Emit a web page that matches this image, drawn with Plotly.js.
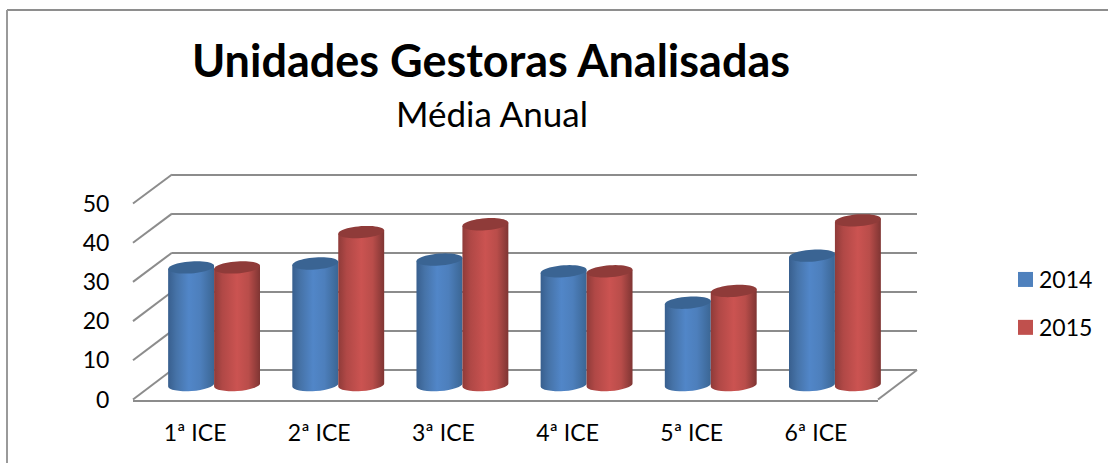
<!DOCTYPE html>
<html><head><meta charset="utf-8">
<script src="https://cdn.plot.ly/plotly-3.0.1.min.js"></script>
<style>html,body{margin:0;padding:0;background:#fff}#c{width:1108px;height:463px}</style>
</head><body><div id="c"></div>
<script>
const categories = ['1ª ICE','2ª ICE','3ª ICE','4ª ICE','5ª ICE','6ª ICE'];
const values2014 = [30,31,32,29,21,33];
const values2015 = [30,39,41,29,24,42];
const yTicks = [0,10,20,30,40,50];
const W=1108,H=463, FONT='Lato, "Open Sans", sans-serif', GRID='#8c8c8c';
const px=x=>x/W, py=y=>1-y/H;
const idx=categories.map((_,i)=>i);
const frontY=v=>399.5-v*3.92, backY=v=>370-v*3.91;
const BW=0.37, SCALE=3.92, RY=6, TILT=1.6;

function cap(i,v,off,color){
  let d='';
  for(let k=0;k<=48;k++){
    const t=k/48*2*Math.PI, c=Math.cos(t), s=Math.sin(t);
    const x=i+off+BW/2*c, y=v+(RY*s+TILT*c)/SCALE;
    d+=(k?'L':'M')+x.toFixed(4)+','+y.toFixed(4);
  }
  return {type:'path',xref:'x3',yref:'y3',path:d+'Z',fillcolor:color,line:{width:0},layer:'above'};
}
const shapes=[];
shapes.push({type:'line',xref:'paper',yref:'paper',x0:px(7),x1:1,y0:py(10),y1:py(10),line:{color:'#8e8e8e',width:2}});
shapes.push({type:'line',xref:'paper',yref:'paper',x0:px(7),x1:px(7),y0:py(10),y1:0,line:{color:'#9a9a9a',width:2}});
yTicks.forEach(v=>shapes.push({type:'line',xref:'paper',yref:'paper',layer:'below',x0:px(133),x1:px(172),y0:py(frontY(v)),y1:py(backY(v)),line:{color:GRID,width:2}}));
shapes.push({type:'line',xref:'paper',yref:'paper',layer:'below',x0:px(878),x1:px(917),y0:py(frontY(0)),y1:py(backY(0)),line:{color:GRID,width:2}});
idx.forEach(i=>{shapes.push(cap(i,values2014[i],-BW/2,'#3a6493'));});
idx.forEach(i=>{shapes.push(cap(i,values2015[i],BW/2,'#8f3b39'));});

const data=[
 {type:'scatter',mode:'none',x:idx,y:idx.map(()=>0),xaxis:'x',yaxis:'y',showlegend:false,hoverinfo:'skip'},
 {type:'scatter',mode:'none',x:idx,y:idx.map(()=>0),xaxis:'x2',yaxis:'y2',showlegend:false,hoverinfo:'skip'},
 {type:'bar',name:'2014',legendgroup:'2014',x:idx,y:values2014,xaxis:'x3',yaxis:'y3',marker:{color:'#4f81bd',line:{width:0}}},
 {type:'bar',name:'2015',legendgroup:'2015',x:idx,y:values2015,xaxis:'x3',yaxis:'y3',marker:{color:'#c0504d',line:{width:0}}}
];
const hidden={visible:true,showgrid:false,zeroline:false,showticklabels:false,ticks:'',showline:false};
const layout={
 width:W,height:H,margin:{l:0,r:0,t:0,b:0,pad:0},paper_bgcolor:'#fff',plot_bgcolor:'rgba(0,0,0,0)',
 font:{family:FONT,color:'#000',size:23},
 barmode:'group',bargap:1-2*BW,bargroupgap:0,
 title:{text:'<b>Unidades Gestoras Analisadas</b>',font:{family:FONT,size:45,color:'#000'},x:px(491),xanchor:'center',y:py(61),yanchor:'middle'},
 annotations:[{text:'Média Anual',xref:'paper',yref:'paper',x:px(492),y:py(113),xanchor:'center',yanchor:'middle',showarrow:false,font:{family:FONT,size:35,color:'#000'}}],
 xaxis:{domain:[px(133),px(878)],range:[-0.5,5.5],tickmode:'array',tickvals:idx,ticktext:categories,ticks:'outside',ticklen:12,tickcolor:'rgba(0,0,0,0)',showgrid:false,zeroline:false,showline:true,linecolor:GRID,linewidth:2,tickfont:{size:23},anchor:'y'},
 yaxis:{domain:[py(frontY(0)),py(frontY(50))],range:[0,50],tickmode:'array',tickvals:yTicks,ticks:'outside',ticklen:18,tickcolor:'rgba(0,0,0,0)',showgrid:false,zeroline:false,showline:false,tickfont:{size:23},anchor:'x'},
 xaxis2:Object.assign({},hidden,{domain:[px(172),px(917)],range:[-0.5,5.5],anchor:'y2'}),
 yaxis2:Object.assign({},hidden,{domain:[py(backY(-1)),py(backY(51))],range:[-1,51],tickmode:'array',tickvals:yTicks,showgrid:true,gridcolor:GRID,gridwidth:2,anchor:'x2'}),
 xaxis3:Object.assign({},hidden,{domain:[px(152),px(897)],range:[-0.5,5.5],anchor:'y3'}),
 yaxis3:Object.assign({},hidden,{domain:[py(385+4*SCALE),py(385-50*SCALE)],range:[-4,50],anchor:'x3'}),
 legend:{x:px(999),y:py(258),xanchor:'left',yanchor:'top',traceorder:'grouped',tracegroupgap:15,font:{size:23,family:FONT},bgcolor:'rgba(0,0,0,0)',itemclick:false,itemdoubleclick:false},
 shapes:shapes,showlegend:true
};
Plotly.newPlot('c',data,layout,{displayModeBar:false,staticPlot:true}).then(gd=>{
  const svg=gd.querySelector('.main-svg'), NS='http://www.w3.org/2000/svg';
  const defs=document.createElementNS(NS,'defs');
  function grad(id,stops){
    const g=document.createElementNS(NS,'linearGradient');
    g.setAttribute('id',id);g.setAttribute('x1','0');g.setAttribute('x2','1');g.setAttribute('y1','0');g.setAttribute('y2','0');
    stops.forEach(([o,c])=>{const s=document.createElementNS(NS,'stop');s.setAttribute('offset',o);s.setAttribute('stop-color',c);g.appendChild(s);});
    defs.appendChild(g);
  }
  grad('cylBlue',[[0,'#385f8e'],[0.18,'#4673a8'],[0.45,'#5186c8'],[0.7,'#4d7fbc'],[1,'#3b6694']]);
  grad('cylRed',[[0,'#8f3b39'],[0.18,'#b04846'],[0.5,'#cb5351'],[0.75,'#b94d4a'],[1,'#7f3533']]);
  svg.insertBefore(defs,svg.firstChild);
  const names=['cylBlue','cylRed'];
  gd.querySelectorAll('.barlayer .trace.bars').forEach((tr,ti)=>{
    tr.querySelectorAll('.point path').forEach(p=>{
      const n=(p.getAttribute('d').match(/-?\d+(\.\d+)?/g)||[]).map(Number);
      if(n.length<4)return;
      const x0=Math.min(n[0],n[3]),x1=Math.max(n[0],n[3]),yb=Math.max(n[1],n[2]),yt=Math.min(n[1],n[2]);
      const rx=(x1-x0)/2;
      p.setAttribute('d',`M${x0},${yt+TILT}L${x1},${yt-TILT}L${x1},${yb-TILT}A${rx},${RY},-4,0,1,${x0},${yb+TILT}Z`);
      p.style.setProperty('fill',`url(#${names[ti]})`);
    });
  });
  gd.querySelectorAll('.legend .legendpoints path').forEach(p=>{
    p.setAttribute('d','M-1,-7.5H14V7.5H-1Z');
  });
});
</script></body></html>
